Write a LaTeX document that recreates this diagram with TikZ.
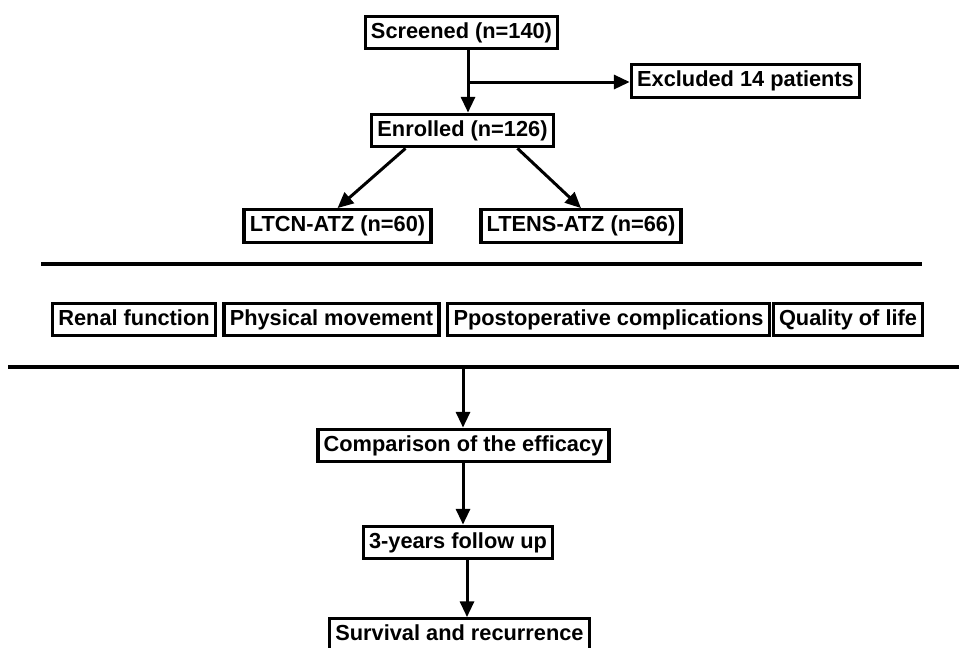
\documentclass[tikz,border=0pt]{standalone}
\usepackage{fontspec}
\setmainfont{Liberation Sans}
\usepackage{tikz}
\usetikzlibrary{arrows.meta,calc}

\begin{document}
\begin{tikzpicture}[x=0.02cm,y=-0.02cm,
    box/.style={draw,line width=1.9pt,minimum height=0.65cm,inner xsep=3.3pt,
                text height=0.72em,text depth=0.04em,
                font=\fontsize{12.4}{14}\selectfont\bfseries},
    arr/.style={-{Triangle[length=9pt,width=8pt]},line width=1.7pt},
    rule/.style={line width=1.9pt}]
    \clip (0,0) rectangle (959,647);
    % enrolment
    \node[box] (screen) at (461.5,32.5) {Screened (n=140)};
    \node[box] (excl) at (745.5,81) {Excluded 14 patients};
    \node[box] (enrol) at (462.5,130.5) {Enrolled (n=126)};
    \node[box] (ltcn) at (337.5,226) {LTCN-ATZ (n=60)};
    \node[box] (ltens) at (581,226) {LTENS-ATZ (n=66)};
    \coordinate (split) at (468,82);

    \draw[arr] (screen.south -| split) -- (enrol.north -| split);
    \draw[arr] (split) -- (excl.west |- split);
    \draw[arr] ($(enrol.south)+(-57,0)$) -- (ltcn.north);
    \draw[arr] ($(enrol.south)+(55,0)$) -- (ltens.north);

    % outcomes
    \draw[rule] (41,264) -- (922,264);
    \node[box] (renal) at (134,319.5) {Renal function};
    \node[box] (phys) at (331.5,319.5) {Physical movement};
    \node[box] (compl) at (608.5,319.5) {Ppostoperative complications};
    \node[box] (qol) at (848,319.5) {Quality of life};
    \draw[rule] (8,367) -- (959,367);

    % follow-up
    \coordinate (mid) at (463,367);
    \node[box] (compar) at (463.5,445.5) {Comparison of the efficacy};
    \node[box] (follow) at (458,542.5) {3-years follow up};
    \node[box] (surv) at (459.5,635) {Survival and recurrence};

    \draw[arr] (mid) -- (mid |- compar.north);
    \draw[arr] (compar.south -| mid) -- (follow.north -| mid);
    \draw[arr] ($(follow.south)+(9,0)$) -- ($(follow.south |- surv.north)+(9,0)$);
\end{tikzpicture}
\end{document}
